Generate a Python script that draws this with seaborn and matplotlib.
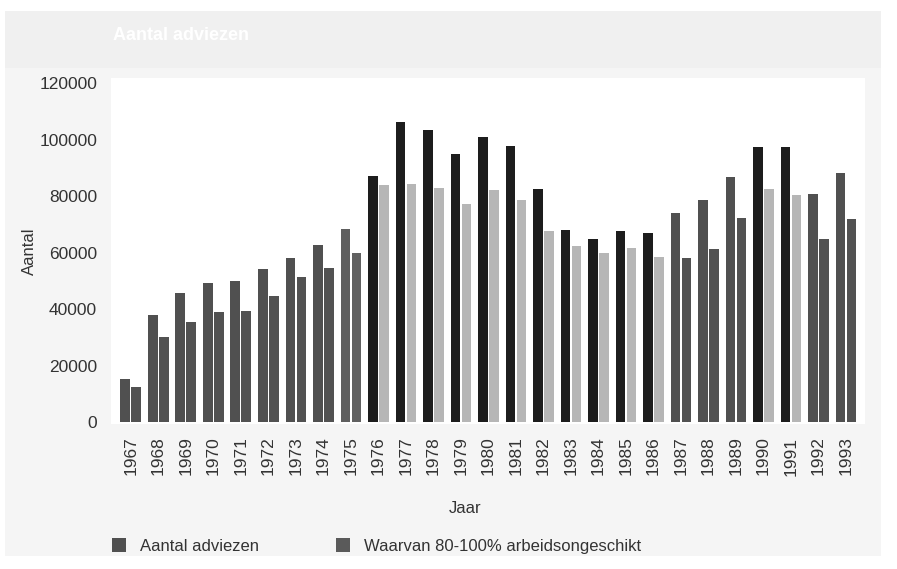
import matplotlib
matplotlib.use("Agg")
import matplotlib.pyplot as plt
from matplotlib.patches import Rectangle, Patch
import numpy as np
import pandas as pd
import seaborn as sns

# Yearly counts
years = [str(y) for y in range(1967, 1994)]
adviezen = [15100, 37900, 45800, 49300, 49900, 54300, 58200, 62500, 68500,
            87200, 106300, 103400, 95000, 101000, 97700, 82500, 68000, 64800,
            67500, 67000, 73900, 78700, 86900, 97200, 97200, 80600, 88000]
arbeidsongeschikt = [12500, 30000, 35300, 39000, 39400, 44600, 51200, 54500, 59900,
                     83800, 84200, 83000, 77200, 82100, 78600, 67800, 62300, 59900,
                     61500, 58500, 58000, 61100, 72400, 82400, 80400, 64900, 71800]

series_names = ["Aantal adviezen", "Waarvan 80-100% arbeidsongeschikt"]

df = pd.DataFrame({
    "Jaar": years * 2,
    "Aantal": adviezen + arbeidsongeschikt,
    "Reeks": [series_names[0]] * len(years) + [series_names[1]] * len(years),
})

# print tones per year range (main bar, sub bar)
MID = ("#505050", "#525252")
LIGHTER = ("#5f5f5f", "#616161")
CONTRAST = ("#1d1d1d", "#b6b6b6")
tone = {}
for y in range(1967, 1994):
    if 1976 <= y <= 1986 or y in (1990, 1991):
        tone[str(y)] = CONTRAST
    elif y == 1975:
        tone[str(y)] = LIGHTER
    else:
        tone[str(y)] = MID

sns.set_theme(style="white")
plt.rcParams["font.family"] = ["Liberation Sans", "DejaVu Sans"]

W, H = 897, 569
fig = plt.figure(figsize=(W / 100, H / 100), dpi=100)
fig.patch.set_facecolor("white")

# light grey panel and title band
fig.patches.append(Rectangle((5 / W, 1 - 556 / H), 876 / W, 545 / H,
                             transform=fig.transFigure, facecolor="#f5f5f5",
                             edgecolor="none", zorder=-10))
fig.patches.append(Rectangle((5 / W, 1 - 68 / H), 876 / W, 57 / H,
                             transform=fig.transFigure, facecolor="#f0f0f0",
                             edgecolor="none", zorder=-9))
fig.text(113 / W, 1 - 36 / H, "Aantal adviezen", color="white", fontsize=13,
         fontweight="bold", va="center", ha="left")

ax = fig.add_axes([111 / W, 1 - 424 / H, (865 - 111) / W, (424 - 78) / H])
ax.set_facecolor("white")

sns.barplot(data=df, x="Jaar", y="Aantal", hue="Reeks", hue_order=series_names,
            order=years, width=0.8, gap=0.12, ax=ax, legend=False,
            palette=["#505050", "#525252"], saturation=1)

# recolour bars by print tone
n = len(years)
for i, p in enumerate(ax.patches[:2 * n]):
    s, k = divmod(i, n)
    p.set_facecolor(tone[years[k]][s])
    p.set_edgecolor("none")

ax.set_ylim(-700, 121800)
ax.set_xlim(-0.72, n - 1 + 0.69)
ax.set_yticks(range(0, 120001, 20000))
ax.set_yticklabels([str(v) for v in range(0, 120001, 20000)], fontsize=12.5, color="#333333")
ax.tick_params(axis="y", length=0, pad=10)
ax.tick_params(axis="x", length=0, pad=9)
for lbl in ax.get_xticklabels():
    lbl.set_rotation(90)
    lbl.set_fontsize(12.5)
    lbl.set_color("#333333")
for s in ax.spines.values():
    s.set_visible(False)

ax.set_xlabel("Jaar", fontsize=12, color="#333333")
ax.xaxis.set_label_coords((465 - 111) / 754, -77 / 346)
ax.set_ylabel("Aantal", fontsize=12, color="#333333")
ax.yaxis.set_label_coords(-0.112 + 10 / 754, 0.5)

handles = [Patch(facecolor="#505050", edgecolor="none"),
           Patch(facecolor="#5a5a5a", edgecolor="none")]
fig.legend(handles, series_names, loc="center left",
           bbox_to_anchor=(97 / W, 1 - 546 / H), ncol=2, frameon=False,
           fontsize=12, handlelength=0.85, handleheight=0.85,
           columnspacing=4.6, handletextpad=0.85, labelcolor="#333333")

fig.savefig("out.png", dpi=100)
